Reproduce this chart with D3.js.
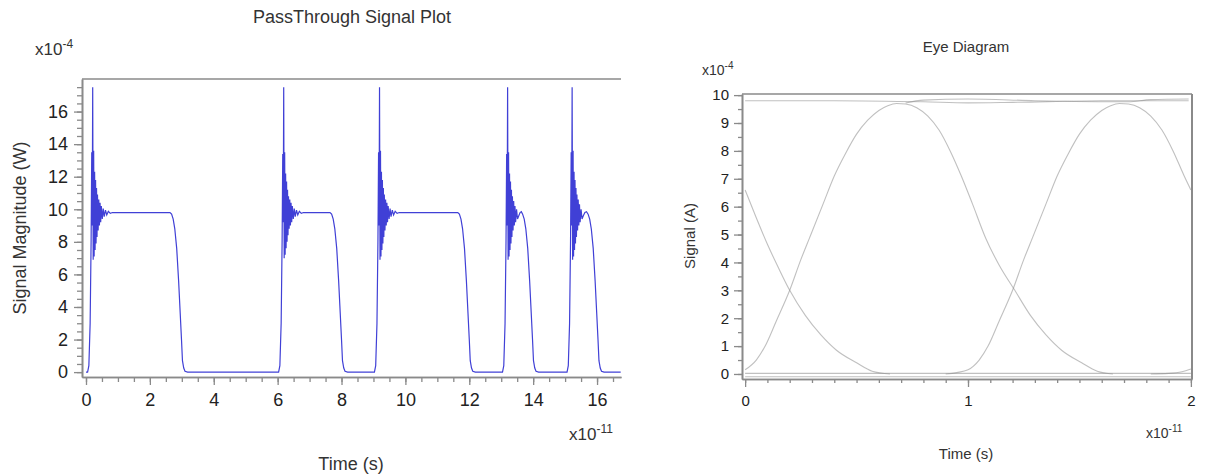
<!DOCTYPE html>
<html>
<head>
<meta charset="utf-8">
<script src="https://cdn.jsdelivr.net/npm/d3@7"></script>
<style>
  body { margin: 0; background: #fff; }
  svg { display: block; font-family: "Liberation Sans", Arial, sans-serif; }
</style>
</head>
<body>
<svg id="chart" width="1206" height="475"></svg>
<script>
// PassThrough signal, time in units of 1e-11 s, power in units of 1e-4 W
var pulse1 = [[0, 0], [0.05, 0], [0.09, 0.4], [0.13, 3], [0.16, 8], [0.18, 13.5], [0.195, 9], [0.21, 17.5],
  [0.225, 6.9], [0.24, 13.6], [0.255, 7.1], [0.27, 12.3], [0.285, 7.5], [0.30, 11.8], [0.315, 7.9], [0.33, 11.3],
  [0.345, 8.3], [0.36, 10.9], [0.38, 8.7], [0.40, 10.6], [0.42, 9.0], [0.44, 10.4], [0.46, 9.2], [0.48, 10.2],
  [0.51, 9.4], [0.54, 10.05], [0.57, 9.55], [0.61, 9.95], [0.65, 9.65], [0.70, 9.88], [0.76, 9.75], [0.83, 9.8],
  [2.63, 9.8], [2.68, 9.7], [2.73, 9.4], [2.78, 8.8], [2.84, 7.6], [2.90, 5.6], [2.95, 3.6], [2.99, 2.0],
  [3.02, 0.7], [3.06, 0.25], [3.10, 0.05], [3.18, 0]];
var pulse2 = [[6.03, 0], [6.07, 0.4], [6.11, 3], [6.14, 8], [6.16, 13.4], [6.175, 9.2], [6.19, 17.5],
  [6.205, 7.0], [6.22, 13.5], [6.235, 7.2], [6.25, 12.2], [6.265, 7.6], [6.28, 11.7], [6.295, 8.0], [6.31, 11.2],
  [6.325, 8.4], [6.34, 10.8], [6.36, 8.8], [6.38, 10.6], [6.40, 9.0], [6.42, 10.4], [6.44, 9.2], [6.46, 10.2],
  [6.49, 9.4], [6.52, 10.05], [6.55, 9.55], [6.59, 9.95], [6.63, 9.65], [6.68, 9.88], [6.74, 9.75], [6.81, 9.8],
  [7.64, 9.8], [7.69, 9.7], [7.74, 9.4], [7.79, 8.8], [7.85, 7.6], [7.91, 5.6], [7.96, 3.6], [8.00, 2.0],
  [8.03, 0.7], [8.07, 0.25], [8.11, 0.05], [8.19, 0]];
var pulse3 = [[9.03, 0], [9.07, 0.4], [9.11, 3], [9.14, 8], [9.16, 13.5], [9.175, 9], [9.19, 17.5],
  [9.205, 6.9], [9.22, 13.6], [9.235, 7.1], [9.25, 12.3], [9.265, 7.5], [9.28, 11.8], [9.295, 7.9], [9.31, 11.3],
  [9.325, 8.3], [9.34, 10.9], [9.36, 8.7], [9.38, 10.6], [9.40, 9.0], [9.42, 10.4], [9.44, 9.2], [9.46, 10.2],
  [9.49, 9.4], [9.52, 10.05], [9.55, 9.55], [9.59, 9.95], [9.63, 9.65], [9.68, 9.88], [9.74, 9.75], [9.81, 9.8],
  [11.64, 9.8], [11.69, 9.7], [11.74, 9.4], [11.79, 8.8], [11.85, 7.6], [11.91, 5.6], [11.96, 3.6], [12.00, 2.0],
  [12.03, 0.7], [12.07, 0.25], [12.11, 0.05], [12.19, 0]];
var pulse4 = [[13.04, 0], [13.08, 0.4], [13.12, 3], [13.15, 8], [13.17, 13.4], [13.185, 9], [13.2, 17.5],
  [13.215, 6.9], [13.23, 13.5], [13.245, 7.1], [13.26, 12.2], [13.275, 7.5], [13.29, 11.7], [13.305, 7.9],
  [13.32, 11.2], [13.335, 8.3], [13.35, 10.8], [13.37, 8.7], [13.39, 10.5], [13.41, 9.0], [13.43, 10.2],
  [13.45, 9.2], [13.48, 10.0], [13.51, 9.4], [13.55, 9.6], [13.59, 9.8], [13.63, 9.85], [13.67, 9.7],
  [13.72, 9.4], [13.77, 8.8], [13.83, 7.6], [13.89, 5.6], [13.94, 3.6], [13.98, 2.0], [14.01, 0.7],
  [14.05, 0.25], [14.09, 0.05], [14.17, 0]];
var pulse5 = [[15.06, 0], [15.10, 0.4], [15.14, 3], [15.17, 8], [15.19, 13.5], [15.205, 9], [15.22, 17.5],
  [15.235, 6.9], [15.25, 13.6], [15.265, 7.1], [15.28, 12.3], [15.295, 7.5], [15.31, 11.8], [15.325, 7.9],
  [15.34, 11.3], [15.355, 8.3], [15.37, 10.9], [15.39, 8.7], [15.41, 10.6], [15.43, 9.0], [15.45, 10.3],
  [15.47, 9.2], [15.50, 10.0], [15.53, 9.4], [15.57, 9.6], [15.62, 9.8], [15.67, 9.85], [15.72, 9.7],
  [15.77, 9.4], [15.82, 8.8], [15.88, 7.6], [15.94, 5.6], [15.99, 3.6], [16.03, 2.0], [16.06, 0.7],
  [16.10, 0.25], [16.14, 0.05], [16.22, 0], [16.74, 0]];

var passXTicks = [0, 2, 4, 6, 8, 10, 12, 14, 16];
var passYTicks = [0, 2, 4, 6, 8, 10, 12, 14, 16];

// Eye diagram traces, time in units of 1e-11 s, signal in units of 1e-4 A
var eyeHighA = [[0, 9.8], [0.4, 9.8], [0.8, 9.76], [1.0, 9.72], [1.2, 9.74], [1.6, 9.8], [1.99, 9.8]];
var eyeHighB = [[0.72, 9.72], [0.8, 9.82], [1.0, 9.86], [1.3, 9.8], [1.72, 9.76], [1.82, 9.84], [1.99, 9.86]];
var eyeLowA = [[0, 0.02], [2, 0.02]];
var eyeLowB = [[0, -0.1], [2, -0.1]];
var eyeRise0 = [[0, 0.15], [0.05, 0.5], [0.09, 1.0], [0.14, 1.9], [0.2, 3.0], [0.25, 4.1], [0.29, 4.9],
  [0.35, 6.1], [0.4, 7.1], [0.45, 7.9], [0.5, 8.6], [0.55, 9.1], [0.6, 9.45], [0.64, 9.62], [0.68, 9.7],
  [0.72, 9.68], [0.77, 9.55], [0.82, 9.25], [0.87, 8.75], [0.92, 8.0], [0.97, 7.1], [1.02, 6.1], [1.08, 4.86],
  [1.14, 3.9], [1.21, 3.0], [1.28, 2.1], [1.35, 1.4], [1.42, 0.85], [1.51, 0.4], [1.58, 0.1], [1.65, 0]];
var eyeFall0 = [[0, 6.6], [0.05, 5.6], [0.1, 4.65], [0.15, 3.8], [0.2, 3.0], [0.27, 2.1], [0.34, 1.4],
  [0.41, 0.85], [0.5, 0.4], [0.57, 0.1], [0.65, 0]];
var eyeRise1 = [[0.9, 0], [0.95, 0.05], [1.0, 0.15], [1.05, 0.5], [1.09, 1.0], [1.14, 1.9], [1.2, 3.0],
  [1.25, 4.1], [1.29, 4.9], [1.35, 6.1], [1.4, 7.1], [1.45, 7.9], [1.5, 8.6], [1.55, 9.1], [1.6, 9.45],
  [1.64, 9.62], [1.68, 9.7], [1.72, 9.68], [1.77, 9.55], [1.82, 9.25], [1.87, 8.75], [1.92, 8.0], [1.97, 7.1],
  [2.0, 6.6]];
var eyeRise2 = [[1.82, 0], [1.9, 0.02], [1.96, 0.08], [2.0, 0.18]];

var eyeXTicks = [0, 1, 2];
var eyeYTicks = [0, 1, 2, 3, 4, 5, 6, 7, 8, 9, 10];

var svg = d3.select("#chart");
var textColor = "#333";
var axisColor = "#8a8a8a";

// ---------- left: PassThrough Signal Plot ----------
var px = d3.scaleLinear().domain([-0.125, 16.75]).range([82, 621]);
var py = d3.scaleLinear().domain([-0.3, 18]).range([377, 79]);

var left = svg.append("g");

// minor ticks first, then major with labels
left.append("g").attr("transform", "translate(0,377)")
  .call(d3.axisBottom(px).tickValues(d3.range(0, 16.8, 0.5)).tickSize(5).tickFormat("").tickSizeOuter(0));
left.append("g").attr("transform", "translate(0,377)")
  .call(d3.axisBottom(px).tickValues(passXTicks).tickSize(8).tickSizeOuter(0).tickPadding(8));
left.append("g").attr("transform", "translate(82,0)")
  .call(d3.axisLeft(py).tickValues(d3.range(0, 17.6, 0.5)).tickSize(5).tickFormat("").tickSizeOuter(0));
left.append("g").attr("transform", "translate(82,0)")
  .call(d3.axisLeft(py).tickValues(passYTicks).tickSize(8).tickSizeOuter(0).tickPadding(6));

left.append("line")
  .attr("x1", 82).attr("x2", 621).attr("y1", 79).attr("y2", 79)
  .attr("stroke", axisColor).attr("stroke-width", 1.6);

left.selectAll(".tick text").attr("font-size", 18).attr("fill", "#222")
  .attr("font-family", "Liberation Sans, Arial, sans-serif");

var passSignal = [].concat(pulse1, pulse2, pulse3, pulse4, pulse5);
var passLine = d3.line().x(function (d) { return px(d[0]); }).y(function (d) { return py(d[1]); });

left.append("path")
  .datum(passSignal)
  .attr("d", passLine)
  .attr("fill", "none")
  .attr("stroke", "#4040d6")
  .attr("stroke-width", 1.2);

left.append("text").attr("x", 352).attr("y", 23).attr("text-anchor", "middle")
  .attr("font-size", 18).attr("fill", textColor).text("PassThrough Signal Plot");
var lexp = left.append("text").attr("x", 35).attr("y", 55).attr("font-size", 17).attr("fill", textColor);
lexp.append("tspan").text("x10");
lexp.append("tspan").attr("dy", -7).attr("font-size", 12).text("-4");
var lxexp = left.append("text").attr("x", 569).attr("y", 440).attr("font-size", 17).attr("fill", textColor);
lxexp.append("tspan").text("x10");
lxexp.append("tspan").attr("dy", -7).attr("font-size", 12).text("-11");
left.append("text").attr("x", 351).attr("y", 470).attr("text-anchor", "middle")
  .attr("font-size", 18).attr("fill", textColor).text("Time (s)");
left.append("text").attr("transform", "translate(26,228) rotate(-90)").attr("text-anchor", "middle")
  .attr("font-size", 18).attr("fill", textColor).text("Signal Magnitude (W)");

// ---------- right: Eye Diagram ----------
var ex = d3.scaleLinear().domain([-0.014, 2.005]).range([742, 1192]);
var ey = d3.scaleLinear().domain([-0.18, 10.04]).range([379, 94]);

var right = svg.append("g");

right.append("g").attr("transform", "translate(0,379)")
  .call(d3.axisBottom(ex).tickValues(d3.range(0, 2.01, 0.1)).tickSize(4).tickFormat("").tickSizeOuter(0));
right.append("g").attr("transform", "translate(0,379)")
  .call(d3.axisBottom(ex).tickValues(eyeXTicks).tickSize(8).tickSizeOuter(0).tickPadding(8)
    .tickFormat(d3.format("d")));
right.append("g").attr("transform", "translate(742,0)")
  .call(d3.axisLeft(ey).tickValues(d3.range(0, 10.1, 0.5)).tickSize(4).tickFormat("").tickSizeOuter(0));
right.append("g").attr("transform", "translate(742,0)")
  .call(d3.axisLeft(ey).tickValues(eyeYTicks).tickSize(8).tickSizeOuter(0).tickPadding(5));

right.append("line")
  .attr("x1", 742).attr("x2", 1192).attr("y1", 94).attr("y2", 94)
  .attr("stroke", axisColor).attr("stroke-width", 1.6);
right.append("line")
  .attr("x1", 1192).attr("x2", 1192).attr("y1", 94).attr("y2", 379)
  .attr("stroke", axisColor).attr("stroke-width", 2);

right.selectAll(".tick text").attr("font-size", 15).attr("fill", "#222")
  .attr("font-family", "Liberation Sans, Arial, sans-serif");

var eyeLine = d3.line().curve(d3.curveMonotoneX)
  .x(function (d) { return ex(d[0]); }).y(function (d) { return ey(d[1]); });
var eyeTraces = [eyeHighA, eyeHighB, eyeLowA, eyeLowB, eyeRise0, eyeFall0, eyeRise1, eyeRise2];

right.selectAll(".trace")
  .data(eyeTraces)
  .enter()
  .append("path")
  .attr("class", "trace")
  .attr("d", eyeLine)
  .attr("fill", "none")
  .attr("stroke", "#8c8c8c")
  .attr("stroke-opacity", 0.55)
  .attr("stroke-width", 1.1);

right.append("text").attr("x", 966).attr("y", 52).attr("text-anchor", "middle")
  .attr("font-size", 15).attr("fill", textColor).text("Eye Diagram");
var rexp = right.append("text").attr("x", 702).attr("y", 75).attr("font-size", 14).attr("fill", textColor);
rexp.append("tspan").text("x10");
rexp.append("tspan").attr("dy", -6).attr("font-size", 10).text("-4");
var rxexp = right.append("text").attr("x", 1146).attr("y", 438).attr("font-size", 14).attr("fill", textColor);
rxexp.append("tspan").text("x10");
rxexp.append("tspan").attr("dy", -6).attr("font-size", 10).text("-11");
right.append("text").attr("x", 966).attr("y", 459).attr("text-anchor", "middle")
  .attr("font-size", 15).attr("fill", textColor).text("Time (s)");
right.append("text").attr("transform", "translate(695,236) rotate(-90)").attr("text-anchor", "middle")
  .attr("font-size", 15).attr("fill", textColor).text("Signal (A)");

// axis colours
svg.selectAll(".domain").attr("stroke", axisColor).attr("stroke-width", 1.6);
svg.selectAll(".tick line").attr("stroke", axisColor).attr("stroke-width", 1.3);
</script>
</body>
</html>
